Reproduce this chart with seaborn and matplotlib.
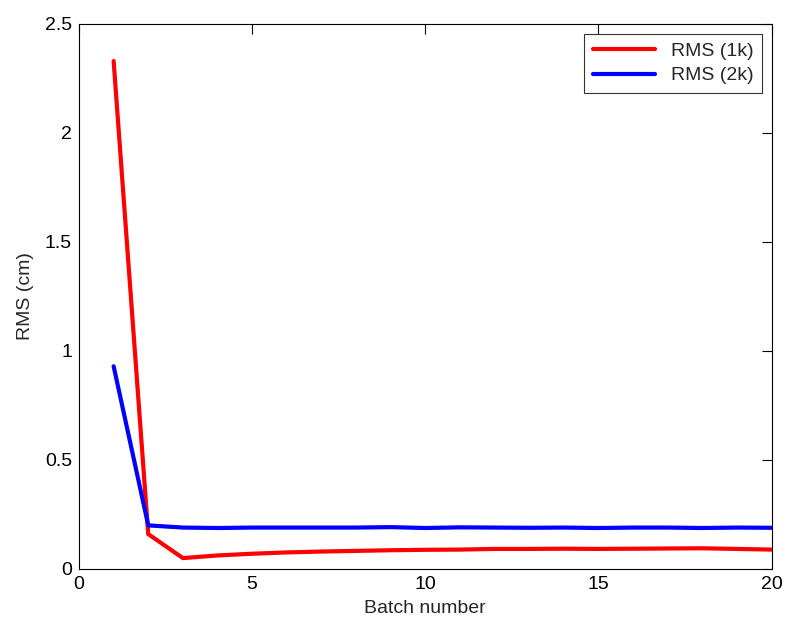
import numpy as np
import pandas as pd
import seaborn as sns
import matplotlib.pyplot as plt

# Data
batch = list(range(1, 21))
rms_1k = [2.33, 0.16, 0.05, 0.062, 0.07, 0.076, 0.08, 0.083, 0.086, 0.088,
          0.089, 0.092, 0.092, 0.093, 0.092, 0.093, 0.094, 0.095, 0.092, 0.089]
rms_2k = [0.93, 0.20, 0.19, 0.188, 0.19, 0.19, 0.19, 0.19, 0.192, 0.188,
          0.191, 0.19, 0.189, 0.19, 0.188, 0.19, 0.19, 0.188, 0.19, 0.189]

df = pd.DataFrame({
    "Batch number": batch * 2,
    "RMS (cm)": rms_1k + rms_2k,
    "series": ["RMS (1k)"] * len(batch) + ["RMS (2k)"] * len(batch),
})

sns.set_style("white")
plt.rcParams['font.family'] = ['Liberation Sans', 'DejaVu Sans']

fig = plt.figure(figsize=(7.86, 6.23), dpi=100)
ax = fig.add_axes([0.1005, 0.0867, 0.8812, 0.8748])

sns.lineplot(data=df, x="Batch number", y="RMS (cm)", hue="series",
             palette={"RMS (1k)": "#ff0000", "RMS (2k)": "#0000ff"},
             linewidth=3, ax=ax)

ax.set_xlim(0, 20)
ax.set_ylim(0, 2.5)
ax.set_xticks([0, 5, 10, 15, 20])
ax.set_yticks([0, 0.5, 1, 1.5, 2, 2.5])
ax.set_yticklabels(["0", "0.5", "1", "1.5", "2", "2.5"])
ax.tick_params(direction="in", top=True, right=True, length=7, width=0.8,
               labelsize=14, colors="black", pad=5)
for s in ax.spines.values():
    s.set_color("black")
    s.set_linewidth(0.8)
ax.set_xlabel("Batch number", fontsize=14, labelpad=5)
ax.set_ylabel("RMS (cm)", fontsize=14, labelpad=8)

leg = ax.legend(loc="upper right", fontsize=14, frameon=True, fancybox=False,
                edgecolor="black", handlelength=3.2, borderaxespad=0.5,
                borderpad=0.45, labelspacing=0.35)
leg.get_frame().set_linewidth(0.8)
leg.set_title(None)

fig.savefig("out.png", dpi=100)
